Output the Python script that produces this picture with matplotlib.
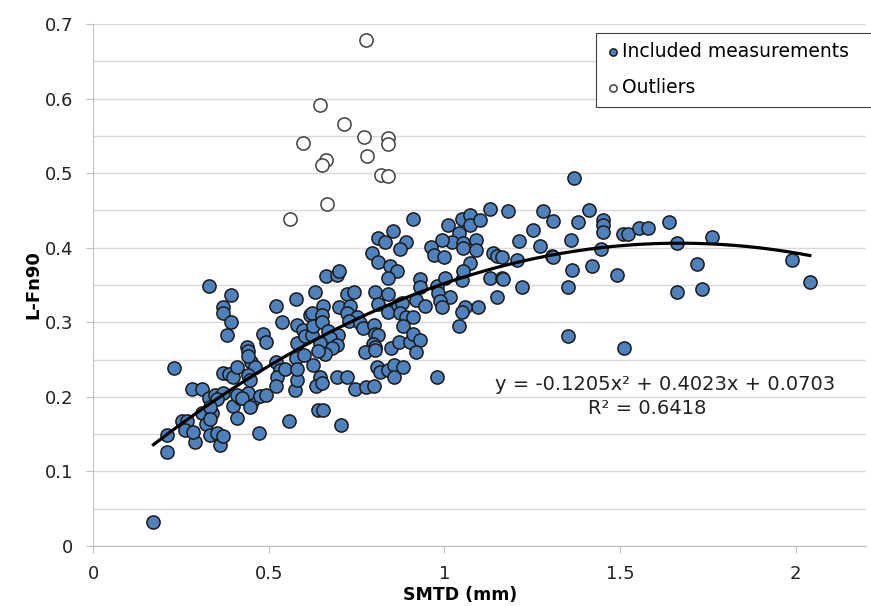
import numpy as np
import matplotlib
matplotlib.use('Agg')
import matplotlib.pyplot as plt

plt.rcParams['font.family'] = ['DejaVu Sans']

# included measurements (SMTD mm, L-Fn90)
smtd = [0.172, 0.211, 0.211, 0.231, 0.252, 0.268, 0.262, 0.290, 0.285, 0.283,
        0.311, 0.331, 0.309, 0.321, 0.333, 0.338, 0.331, 0.352, 0.361, 0.369,
        0.347, 0.371, 0.399, 0.410, 0.371, 0.388, 0.399, 0.410, 0.380, 0.371,
        0.371, 0.392, 0.392, 0.418, 0.437, 0.451, 0.461, 0.442, 0.475, 0.472,
        0.492, 0.437, 0.442, 0.451, 0.461, 0.442, 0.447, 0.483, 0.492, 0.521,
        0.537, 0.578, 0.521, 0.532, 0.523, 0.521, 0.546, 0.559, 0.575, 0.578,
        0.580, 0.580, 0.580, 0.442, 0.354, 0.409, 0.423, 0.447, 0.333, 0.333,
        0.911, 0.853, 0.810, 0.831, 0.892, 0.873, 0.793, 0.810, 0.845, 0.864,
        0.840, 0.663, 0.693, 0.701, 0.632, 0.722, 0.743, 0.802, 0.840, 0.930,
        0.930, 0.978, 1.001, 1.049, 1.011, 1.049, 1.072, 1.072, 1.042, 1.023,
        1.052, 1.052, 1.091, 0.992, 0.963, 0.971, 0.999, 1.072, 1.052, 1.091,
        0.982, 1.016, 0.987, 0.992, 1.096, 1.058, 1.049, 1.042, 0.978, 0.655,
        0.617, 0.622, 0.651, 0.701, 0.731, 0.722, 0.750, 0.729, 0.760, 0.769,
        0.810, 0.840, 0.869, 0.878, 0.873, 0.890, 0.911, 0.881, 0.920, 0.598,
        0.603, 0.622, 0.627, 0.651, 0.669, 0.698, 0.674, 0.646, 0.693, 0.679,
        0.660, 0.641, 0.600, 0.627, 0.581, 0.646, 0.636, 0.651, 0.693, 0.722,
        0.745, 0.777, 0.800, 0.800, 0.802, 0.812, 0.796, 0.802, 0.774, 0.802,
        0.847, 0.871, 0.902, 0.911, 0.932, 0.919, 0.807, 0.817, 0.840, 0.857,
        0.883, 0.856, 0.641, 0.655, 0.945, 0.705,
        1.369, 1.129, 1.180, 1.281, 1.411, 1.101, 1.309, 1.381, 1.450, 1.450,
        1.450, 1.253, 1.213, 1.272, 1.360, 1.139, 1.150, 1.163, 1.305, 1.310,
        1.447, 1.208, 1.362, 1.421, 1.490, 1.129, 1.163, 1.167, 1.220, 1.352,
        1.151, 1.352, 1.512, 1.507, 1.523, 1.554, 1.580, 1.640, 1.662, 1.763,
        1.719, 1.662, 1.732, 1.990, 2.040]
lfn90 = [0.032, 0.126, 0.149, 0.239, 0.168, 0.168, 0.156, 0.140, 0.153, 0.210,
         0.210, 0.348, 0.178, 0.163, 0.149, 0.178, 0.198, 0.151, 0.135, 0.147,
         0.203, 0.205, 0.188, 0.172, 0.232, 0.230, 0.227, 0.240, 0.283, 0.321,
         0.312, 0.336, 0.301, 0.198, 0.198, 0.191, 0.198, 0.205, 0.201, 0.151,
         0.203, 0.267, 0.261, 0.247, 0.240, 0.229, 0.223, 0.284, 0.274, 0.322,
         0.301, 0.331, 0.247, 0.236, 0.227, 0.215, 0.238, 0.168, 0.209, 0.252,
         0.272, 0.296, 0.223, 0.255, 0.197, 0.203, 0.198, 0.187, 0.187, 0.170,
         0.438, 0.423, 0.413, 0.407, 0.408, 0.398, 0.393, 0.381, 0.376, 0.369,
         0.360, 0.362, 0.363, 0.369, 0.341, 0.338, 0.340, 0.341, 0.338, 0.358,
         0.347, 0.349, 0.360, 0.357, 0.430, 0.438, 0.444, 0.430, 0.420, 0.408,
         0.406, 0.399, 0.410, 0.410, 0.401, 0.390, 0.387, 0.380, 0.369, 0.397,
         0.339, 0.334, 0.328, 0.321, 0.320, 0.321, 0.314, 0.295, 0.227, 0.322,
         0.310, 0.312, 0.310, 0.321, 0.322, 0.313, 0.307, 0.302, 0.299, 0.292,
         0.325, 0.314, 0.323, 0.326, 0.312, 0.307, 0.307, 0.295, 0.330, 0.290,
         0.281, 0.283, 0.295, 0.300, 0.288, 0.283, 0.279, 0.272, 0.270, 0.265,
         0.258, 0.261, 0.256, 0.243, 0.238, 0.227, 0.214, 0.218, 0.227, 0.227,
         0.211, 0.213, 0.214, 0.296, 0.284, 0.283, 0.271, 0.267, 0.260, 0.263,
         0.265, 0.274, 0.274, 0.284, 0.276, 0.260, 0.240, 0.234, 0.236, 0.243,
         0.240, 0.226, 0.182, 0.182, 0.322, 0.162,
         0.494, 0.452, 0.449, 0.449, 0.451, 0.437, 0.436, 0.434, 0.437, 0.430,
         0.421, 0.424, 0.409, 0.402, 0.410, 0.393, 0.389, 0.387, 0.389, 0.387,
         0.398, 0.384, 0.370, 0.376, 0.363, 0.359, 0.359, 0.358, 0.347, 0.347,
         0.334, 0.281, 0.266, 0.419, 0.419, 0.427, 0.427, 0.434, 0.406, 0.414,
         0.378, 0.341, 0.345, 0.384, 0.354]

# outliers
out_smtd = [0.777, 0.646, 0.715, 0.771, 0.598, 0.840, 0.840, 0.780, 0.663, 0.651,
            0.821, 0.840, 0.665, 0.562]
out_lfn90 = [0.679, 0.591, 0.566, 0.549, 0.540, 0.547, 0.539, 0.523, 0.518, 0.511,
             0.498, 0.496, 0.459, 0.439]

# polynomial trendline as printed on chart
coef = [-0.1205, 0.4023, 0.0703]
r2 = 0.6418

fig = plt.figure(figsize=(8.71, 6.06), dpi=100)
ax = fig.add_axes([0.1068, 0.099, 0.8875, 0.8614])

ax.scatter(smtd, lfn90, s=90, color='#4F81BD', edgecolor='#1a1a1a', linewidth=1.1,
           zorder=3, label='Included measurements')
ax.scatter(out_smtd, out_lfn90, s=90, color='white', edgecolor='#404040', linewidth=1.1,
           zorder=3, label='Outliers')

xf = np.linspace(min(smtd), max(smtd), 200)
ax.plot(xf, np.polyval(coef, xf), color='black', lw=2.3, zorder=4)

ax.text(1.627, 0.216, 'y = -0.1205x² + 0.4023x + 0.0703',
        fontsize=14, ha='center', va='center', color='#222222', zorder=5)
ax.text(1.576, 0.184, 'R² = %.4f' % r2,
        fontsize=14, ha='center', va='center', color='#222222', zorder=5)

ax.set_xlim(0, 2.2)
ax.set_ylim(0, 0.7)
ax.set_xticks([0, 0.5, 1, 1.5, 2])
ax.set_xticklabels(['0', '0.5', '1', '1.5', '2'])
ax.set_yticks(np.arange(0, 0.71, 0.1))
ax.set_yticklabels(['0', '0.1', '0.2', '0.3', '0.4', '0.5', '0.6', '0.7'])
ax.set_yticks(np.arange(0.05, 0.7, 0.1), minor=True)
ax.yaxis.grid(True, which='both', color='#D9D9D9', lw=1)
ax.set_axisbelow(True)

for s in ['top', 'right']:
    ax.spines[s].set_visible(False)
for s in ['left', 'bottom']:
    ax.spines[s].set_color('#BFBFBF')
ax.tick_params(axis='both', which='major', color='#BFBFBF', length=5, labelsize=13,
               labelcolor='#222222')
ax.tick_params(axis='y', which='major', pad=9)
ax.tick_params(axis='x', which='major', pad=9)
ax.tick_params(axis='y', which='minor', length=0)

ax.set_xlabel('SMTD (mm)', fontsize=12.5, fontweight='bold')
ax.xaxis.set_label_coords(0.475, -0.077)
ax.set_ylabel('L-Fn90', fontsize=13, fontweight='bold')
ax.yaxis.set_label_coords(-0.066, 0.5)

leg = ax.legend(loc='upper left', bbox_to_anchor=(0.684, 0.5, 0.33, 0.4455),
                bbox_transform=fig.transFigure, mode='expand', fontsize=13.5,
                markerscale=0.55, handletextpad=0.1, handlelength=0.8,
                borderpad=0.5, labelspacing=0.9, borderaxespad=0,
                fancybox=False, framealpha=1)
leg.get_frame().set_edgecolor('#404040')
leg.get_frame().set_linewidth(0.8)

fig.savefig('out.png', dpi=100)
